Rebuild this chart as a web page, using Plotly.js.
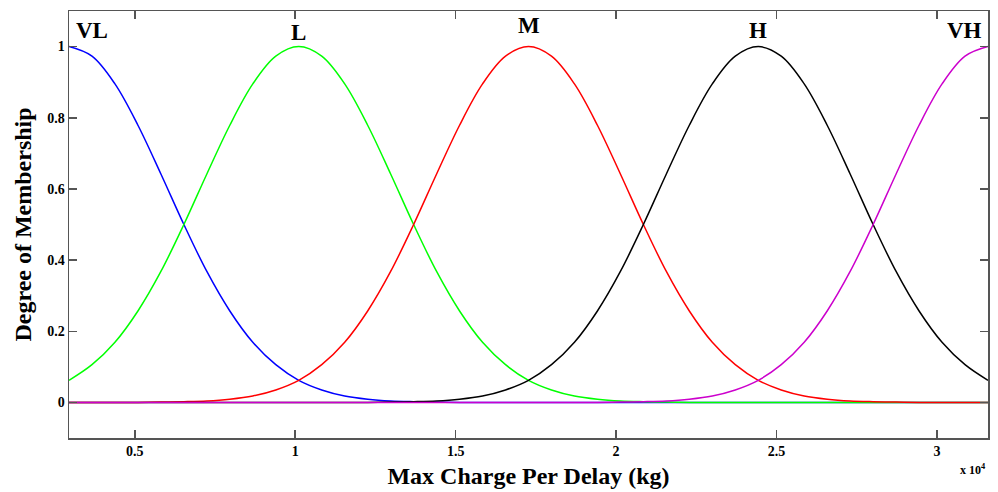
<!DOCTYPE html>
<html>
<head>
<meta charset="utf-8">
<script src="https://cdn.plot.ly/plotly-3.0.1.min.js"></script>
<style>html,body{margin:0;padding:0;background:#fff;}#chart{width:998px;height:492px;}</style>
</head>
<body>
<div id="chart"></div>
<script>
// x values in units of 10^4 kg
const xCharge = [0.2950,0.3666,0.4382,0.5098,0.5814,0.6530,0.7246,0.7962,0.8678,0.9394,
  1.0110,1.0826,1.1542,1.2258,1.2974,1.3690,1.4406,1.5122,1.5838,1.6554,
  1.7270,1.7986,1.8702,1.9418,2.0134,2.0850,2.1566,2.2282,2.2998,2.3714,
  2.4430,2.5146,2.5862,2.6578,2.7294,2.8010,2.8726,2.9442,3.0158,3.0874,3.1590];

const muVL = [1.000,0.973,0.895,0.779,0.642,0.500,0.368,0.257,0.169,0.106,
  0.062,0.035,0.018,0.009,0.004,0.002,0.001,0.000,0.000,0.000,
  0,0,0,0,0,0,0,0,0,0,0,0,0,0,0,0,0,0,0,0,0];
const muL = [0.062,0.106,0.169,0.257,0.368,0.500,0.642,0.779,0.895,0.973,
  1.000,0.973,0.895,0.779,0.642,0.500,0.368,0.257,0.169,0.106,
  0.062,0.035,0.018,0.009,0.004,0.002,0.001,0.000,0.000,0.000,
  0,0,0,0,0,0,0,0,0,0,0];
const muM = [0.000,0.000,0.000,0.000,0.001,0.002,0.004,0.009,0.018,0.035,
  0.062,0.106,0.169,0.257,0.368,0.500,0.642,0.779,0.895,0.973,
  1.000,0.973,0.895,0.779,0.642,0.500,0.368,0.257,0.169,0.106,
  0.062,0.035,0.018,0.009,0.004,0.002,0.001,0.000,0.000,0.000,0.000];
const muH = [0,0,0,0,0,0,0,0,0,0,
  0.000,0.000,0.000,0.000,0.001,0.002,0.004,0.009,0.018,0.035,
  0.062,0.106,0.169,0.257,0.368,0.500,0.642,0.779,0.895,0.973,
  1.000,0.973,0.895,0.779,0.642,0.500,0.368,0.257,0.169,0.106,0.062];
const muVH = [0,0,0,0,0,0,0,0,0,0,
  0,0,0,0,0,0,0,0,0,0,
  0.000,0.000,0.000,0.000,0.001,0.002,0.004,0.009,0.018,0.035,
  0.062,0.106,0.169,0.257,0.368,0.500,0.642,0.779,0.895,0.973,1.000];

const setNames = ['VL','L','M','H','VH'];
const setColors = ['#0000ff','#00ff00','#ff0000','#000000','#cc00cc'];
const setLabelX = [0.31,1.011,1.727,2.443,3.145];
const setLabelY = [1.045,1.04,1.06,1.045,1.045];
const xTickVals = [0.5,1,1.5,2,2.5,3];
const xTickText = ['0.5','1','1.5','2','2.5','3'];
const yTickVals = [0,0.2,0.4,0.6,0.8,1];
const yTickText = ['0','0.2','0.4','0.6','0.8','1'];

const series = [muVL, muL, muM, muH, muVH];

const serif = '"Liberation Serif", "Times New Roman", serif';

const traces = series.map((ys, i) => ({
  x: xCharge, y: ys, type: 'scatter', mode: 'lines', name: setNames[i],
  line: {color: setColors[i], width: 1.5, shape: 'spline', smoothing: 1},
  hoverinfo: 'skip'
}));

const annotations = setNames.map((n, i) => ({
  x: setLabelX[i], y: setLabelY[i], xref: 'x', yref: 'y', text: n, showarrow: false,
  xanchor: i === 0 ? 'left' : (i === 4 ? 'right' : 'center'), yanchor: 'middle',
  font: {family: serif, size: 23, color: '#000', weight: 'bold'}
}));
annotations.push({
  x: 1, y: 0, xref: 'paper', yref: 'paper', xanchor: 'right', yanchor: 'top', yshift: -22,
  text: 'x 10<sup>4</sup>', showarrow: false,
  font: {family: serif, size: 12, color: '#000', weight: 'bold'}
});

const axisCommon = {
  showgrid: false, zeroline: false, showline: true, linecolor: '#555', linewidth: 1.5,
  mirror: 'ticks', ticks: 'inside', ticklen: 8, tickcolor: '#555', tickwidth: 1.5,
  tickfont: {family: serif, size: 14, color: '#000', weight: 'bold'}
};

const layout = {
  width: 998, height: 492,
  margin: {l: 69, r: 10, t: 11, b: 54},
  paper_bgcolor: '#fff', plot_bgcolor: '#fff',
  showlegend: false,
  xaxis: Object.assign({}, axisCommon, {
    range: [0.295, 3.159], tickmode: 'array', tickvals: xTickVals, ticktext: xTickText,
    title: {text: 'Max Charge Per Delay (kg)', standoff: 9,
      font: {family: serif, size: 24, color: '#000', weight: 'bold'}}
  }),
  yaxis: Object.assign({}, axisCommon, {
    range: [-0.1, 1.1], tickmode: 'array', tickvals: yTickVals, ticktext: yTickText,
    ticklabelstandoff: 0,
    title: {text: 'Degree of Membership', standoff: 9,
      font: {family: serif, size: 24, color: '#000', weight: 'bold'}}
  }),
  annotations: annotations
};

Plotly.newPlot('chart', traces, layout, {displayModeBar: false, staticPlot: true});
</script>
</body>
</html>
